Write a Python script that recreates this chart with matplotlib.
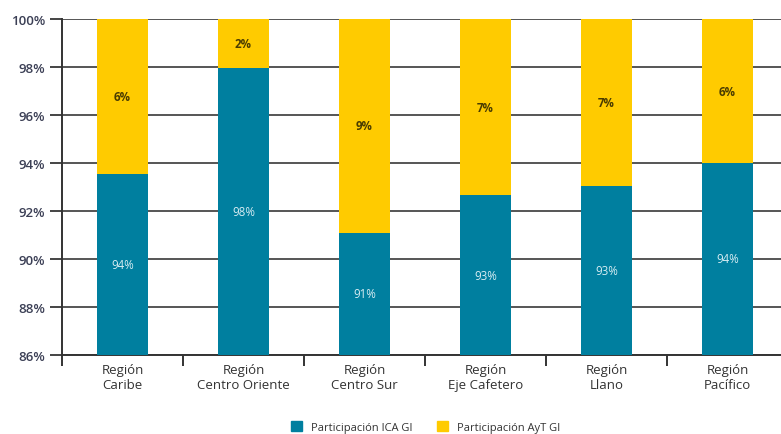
import matplotlib.pyplot as plt
import numpy as np

regiones = ['Región\nCaribe', 'Región\nCentro Oriente', 'Región\nCentro Sur',
            'Región\nEje Cafetero', 'Región\nLlano', 'Región\nPacífico']
ica = [93.55, 97.95, 91.1, 92.65, 93.05, 94.0]
ayt = [100 - v for v in ica]
ica_lbl = ['94%', '98%', '91%', '93%', '93%', '94%']
ayt_lbl = ['6%', '2%', '9%', '7%', '7%', '6%']
yticks = [86, 88, 90, 92, 94, 96, 98, 100]

teal = '#007f9f'
amarillo = '#ffcb00'

plt.rcParams['font.family'] = ['Open Sans', 'DejaVu Sans']

fig = plt.figure(figsize=(7.81, 4.35), dpi=100)
ax = fig.add_axes([62/781, 79/435, 726/781, 336/435])

x = np.arange(len(regiones))
ax.bar(x, ica, width=0.42, color=teal, zorder=3)
ax.bar(x, ayt, width=0.42, bottom=ica, color=amarillo, zorder=3)

for i in range(len(x)):
    ax.text(x[i], (86 + ica[i]) / 2, ica_lbl[i], ha='center', va='center',
            fontsize=8.3, color='#d6ecf2', zorder=4)
    ax.text(x[i], (ica[i] + 100) / 2, ayt_lbl[i], ha='center', va='center',
            fontsize=8.3, color='#4a3c00', fontweight='bold', zorder=4)

ax.set_ylim(86, 100)
ax.set_xlim(-0.5, len(x) - 0.5)
ax.set_yticks(yticks)
ax.set_yticklabels([f'{v}%' for v in yticks], fontsize=9.5, color='#3b3f55',
                   fontweight='semibold')
ax.yaxis.grid(True, color='#555555', linewidth=1.4, zorder=0)

ax.set_xticks(x)
ax.set_xticklabels(regiones, fontsize=9.5, color='#333333')
ax.set_xticks(np.arange(len(x) + 1) - 0.5, minor=True)
ax.tick_params(axis='x', which='major', length=0, pad=6)
ax.tick_params(axis='x', which='minor', length=8, width=1.4, color='#333333')
ax.tick_params(axis='y', length=9, width=1.4, color='#444444', pad=3)

for s in ['top', 'right']:
    ax.spines[s].set_visible(False)
ax.spines['left'].set_color('#333333')
ax.spines['left'].set_linewidth(1.4)
ax.spines['bottom'].set_color('#333333')
ax.spines['bottom'].set_linewidth(1.4)

h1 = plt.Rectangle((0, 0), 1, 1, color=teal)
h2 = plt.Rectangle((0, 0), 1, 1, color=amarillo)
fig.legend([h1, h2], ['Participación ICA GI', 'Participación AyT GI'],
           loc='center', bbox_to_anchor=(0.545, 7/435), ncol=2,
           frameon=False, fontsize=8, handlelength=1.0, handleheight=1.0,
           columnspacing=2.2, labelcolor='#333333')

fig.savefig('out.png', dpi=100)
